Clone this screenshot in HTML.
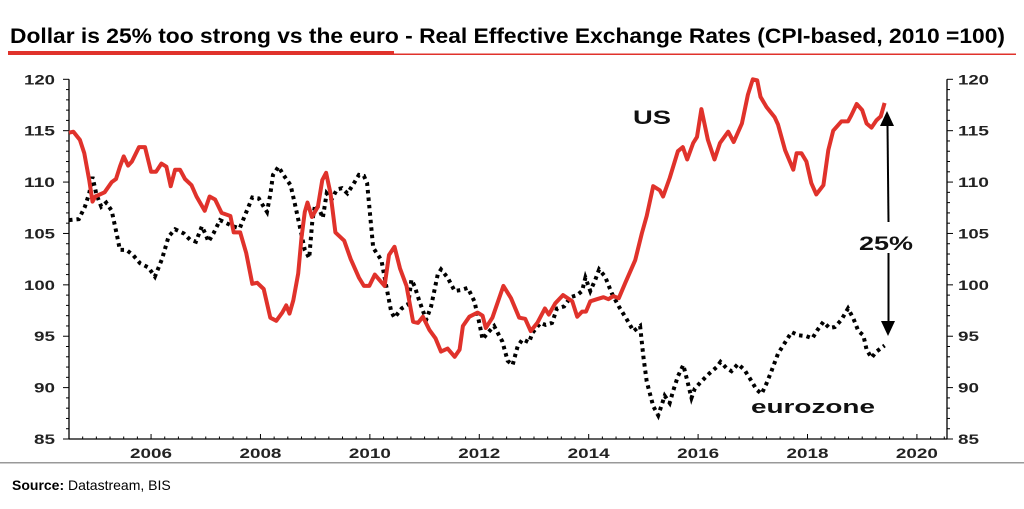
<!DOCTYPE html>
<html><head><meta charset="utf-8"><style>
body{margin:0;background:#fff;width:1024px;height:504px;overflow:hidden;font-family:"Liberation Sans",sans-serif}
</style></head><body>
<svg id="chart" width="1024" height="504" xmlns="http://www.w3.org/2000/svg">
<text x="10" y="43" font-size="21" font-weight="bold" fill="#000" textLength="995" lengthAdjust="spacingAndGlyphs">Dollar is 25% too strong vs the euro - Real Effective Exchange Rates (CPI-based, 2010 =100)</text>
<rect x="8" y="51" width="386" height="4" fill="#e0322b"/>
<rect x="8" y="53.5" width="1008" height="1.5" fill="#e0322b"/>
<rect x="0" y="462" width="1024" height="1.5" fill="#999"/>
<text x="12" y="490" font-size="14" fill="#000"><tspan font-weight="bold">Source:</tspan> Datastream, BIS</text>
<g id="axes"></g>
<g id="marks"></g>
<text x="633" y="124" font-size="19" font-weight="bold" fill="#111" textLength="38" lengthAdjust="spacingAndGlyphs">US</text>
<text x="751" y="413" font-size="18" font-weight="bold" fill="#111" textLength="124" lengthAdjust="spacingAndGlyphs">eurozone</text>
<text x="859" y="250" font-size="19" font-weight="bold" fill="#111" textLength="54" lengthAdjust="spacingAndGlyphs">25%</text>
<g fill="#000" stroke="#000">
<line x1="887.5" y1="125" x2="888.5" y2="222" stroke-width="2"/>
<line x1="888.5" y1="253" x2="888.5" y2="322" stroke-width="2"/>
<polygon points="887,111 880,126 894,126" stroke="none"/>
<polygon points="888,336 881,321 895,321" stroke="none"/>
</g>
</svg>
<script>
const yTicks=[85,90,95,100,105,110,115,120];
const xTickYears=[2006,2008,2010,2012,2014,2016,2018,2020];
const usYears=[2004.5,2004.58,2004.7,2004.78,2004.87,2004.93,2004.98,2005.15,2005.28,2005.36,2005.43,2005.5,2005.58,2005.65,2005.78,2005.89,2006.0,2006.09,2006.19,2006.28,2006.36,2006.44,2006.53,2006.62,2006.74,2006.83,2006.98,2007.07,2007.17,2007.29,2007.45,2007.51,2007.63,2007.74,2007.85,2007.94,2008.06,2008.18,2008.29,2008.4,2008.47,2008.53,2008.6,2008.69,2008.75,2008.81,2008.86,2008.94,2009.05,2009.13,2009.2,2009.28,2009.37,2009.53,2009.65,2009.8,2009.89,2009.99,2010.09,2010.27,2010.35,2010.45,2010.55,2010.67,2010.79,2010.88,2010.97,2011.09,2011.2,2011.3,2011.42,2011.55,2011.64,2011.7,2011.82,2011.97,2012.06,2012.12,2012.24,2012.44,2012.58,2012.73,2012.84,2012.94,2013.06,2013.2,2013.27,2013.39,2013.53,2013.7,2013.79,2013.88,2013.95,2014.03,2014.15,2014.27,2014.36,2014.45,2014.55,2014.67,2014.85,2014.97,2015.06,2015.18,2015.3,2015.36,2015.48,2015.63,2015.72,2015.8,2015.91,2015.98,2016.06,2016.18,2016.3,2016.4,2016.55,2016.65,2016.8,2016.91,2017.0,2017.08,2017.14,2017.25,2017.4,2017.46,2017.59,2017.74,2017.8,2017.89,2017.98,2018.07,2018.16,2018.29,2018.38,2018.47,2018.62,2018.74,2018.8,2018.9,2019.0,2019.08,2019.17,2019.26,2019.34,2019.41];
const usValues=[114.8,114.9,114.1,112.8,110.2,108.1,108.6,109,110.0,110.3,111.5,112.5,111.6,112.0,113.4,113.4,111.0,111.0,111.8,111.5,109.6,111.2,111.2,110.3,109.7,108.6,107.2,108.6,108.3,107.0,106.7,105.1,105.1,103.1,100.1,100.2,99.6,96.8,96.5,97.3,98.0,97.2,98.5,101.1,104.6,107.1,108,106.6,107.6,110.2,110.9,108.9,105.1,104.3,102.5,100.7,99.9,99.9,101.0,99.9,102.9,103.7,101.6,99.9,96.4,96.3,96.9,95.6,94.8,93.5,93.8,93.0,93.7,96.0,96.9,97.3,97.0,95.8,96.8,99.9,98.7,96.8,96.7,95.5,96.3,97.7,97.1,98.2,99.0,98.4,96.9,97.4,97.4,98.4,98.6,98.8,98.6,98.9,98.7,100.2,102.4,105.0,106.7,109.6,109.2,108.6,110.4,113.0,113.4,112.2,113.8,114.4,117.1,114.1,112.2,113.8,114.9,113.9,115.7,118.5,120,119.9,118.3,117.3,116.3,115.6,113.1,111.2,112.8,112.8,112.0,109.9,108.8,109.7,113.1,115.0,115.9,115.9,116.5,117.6,117.0,115.7,115.3,116.0,116.4,117.7];
const ezYears=[2004.5,2004.68,2004.79,2004.87,2004.93,2005.0,2005.09,2005.18,2005.28,2005.37,2005.43,2005.55,2005.67,2005.8,2005.95,2006.07,2006.2,2006.32,2006.44,2006.6,2006.71,2006.82,2006.93,2006.99,2007.05,2007.14,2007.26,2007.38,2007.5,2007.62,2007.72,2007.85,2007.97,2008.06,2008.12,2008.18,2008.23,2008.33,2008.42,2008.55,2008.64,2008.73,2008.81,2008.89,2008.95,2009.0,2009.08,2009.14,2009.21,2009.3,2009.4,2009.49,2009.59,2009.71,2009.8,2009.89,2009.95,2010.06,2010.21,2010.3,2010.39,2010.45,2010.58,2010.7,2010.76,2010.82,2010.9,2011.03,2011.12,2011.24,2011.3,2011.42,2011.55,2011.67,2011.79,2011.91,2012.0,2012.06,2012.15,2012.27,2012.42,2012.52,2012.61,2012.7,2012.79,2012.91,2012.97,2013.12,2013.21,2013.33,2013.42,2013.55,2013.67,2013.79,2013.88,2013.94,2014.03,2014.12,2014.19,2014.3,2014.42,2014.55,2014.7,2014.82,2014.94,2015.0,2015.06,2015.18,2015.27,2015.39,2015.48,2015.54,2015.63,2015.73,2015.8,2015.88,2015.94,2016.06,2016.21,2016.34,2016.41,2016.52,2016.61,2016.73,2016.85,2016.98,2017.07,2017.16,2017.25,2017.34,2017.46,2017.59,2017.71,2017.83,2017.98,2018.09,2018.18,2018.29,2018.4,2018.5,2018.62,2018.74,2018.84,2018.93,2019.02,2019.08,2019.17,2019.26,2019.41];
const ezValues=[106.3,106.4,107.6,108.9,110.5,108.8,107.6,108.0,107.2,105.0,103.4,103.4,102.9,102.1,101.7,100.8,102.5,104.7,105.4,105.0,104.4,104.2,105.7,105.0,104.2,105.0,106.3,106.0,105.7,105.5,106.8,108.5,108.4,107.6,107.1,108.8,110.7,111.5,110.7,109.7,107.6,105.4,103.4,102.6,106.3,107.8,107.3,106.5,108.9,108.3,109.3,109.4,108.9,109.9,110.7,110.6,109.9,103.6,102.4,99.85,97.4,96.8,97.7,98.1,100.5,99.85,98.5,96.6,97.9,101.0,101.5,100.7,99.4,99.5,99.7,98.4,96.3,94.7,95.3,96.0,94.5,92.6,92.2,94.0,94.7,94.4,95.3,96.3,96.1,96.3,97.7,97.9,98.8,99.0,99.4,100.7,99.4,100.5,101.5,100.8,99.2,97.9,96.6,95.5,96.0,93.0,90.6,88.2,87.3,89.2,88.5,89.6,91.1,92.2,90.7,89.0,89.9,90.6,91.4,92.0,92.5,91.9,91.6,92.3,91.7,90.6,89.8,89.4,90.4,91.6,93.3,94.4,95.4,95.1,95.0,94.8,95.6,96.4,95.8,95.9,96.6,97.7,96.7,95.5,95.1,93.7,92.9,93.5,94.1];

const NS='http://www.w3.org/2000/svg';
const X0=69,X1=947,Y0=439,Y1=79.3,YR0=2004.5,YR1=2020.55,V0=85,V1=120;
function xs(t){return X0+(t-YR0)/(YR1-YR0)*(X1-X0);}
function ys(v){return Y0-(v-V0)/(V1-V0)*(Y0-Y1);}
function mk(tag,attrs,parent){const e=document.createElementNS(NS,tag);for(const k in attrs)e.setAttribute(k,attrs[k]);parent.appendChild(e);return e;}
const axes=document.getElementById('axes'),marks=document.getElementById('marks');

const la=mk('line',{x1:X0,y1:Y1,x2:X0,y2:Y0,stroke:'#000','stroke-width':1.3},axes);

const ra=mk('line',{x1:X1,y1:Y1,x2:X1,y2:Y0,stroke:'#000','stroke-width':1.3},axes);

const xa=mk('line',{x1:X0,y1:Y0,x2:X1,y2:Y0,stroke:'#000','stroke-width':1.3},axes);


for(let v=V0;v<=V1;v++){
  const major=v%5===0,len=major?6:3;
  mk('line',{x1:X0-len,y1:ys(v),x2:X0,y2:ys(v),stroke:'#000','stroke-width':1},axes);
  mk('line',{x1:X1,y1:ys(v),x2:X1+len,y2:ys(v),stroke:'#000','stroke-width':1},axes);
}
yTicks.forEach(v=>{
  const l=mk('text',{x:24,y:ys(v)+5,'font-size':14,'font-weight':'bold',fill:'#222',textLength:31,lengthAdjust:'spacingAndGlyphs'},axes);
  l.textContent=v;
  if(v<100){l.setAttribute('x',34);l.setAttribute('textLength',21);}
  
  
  const r=mk('text',{x:958,y:ys(v)+5,'font-size':14,'font-weight':'bold',fill:'#222',textLength:v<100?21:31,lengthAdjust:'spacingAndGlyphs'},axes);
  r.textContent=v;
  
  
});
for(let t=2004.75;t<YR1;t+=0.25){
  const maj=Math.abs(t-Math.round(t))<0.01&&Math.round(t)%2===0;
  mk('line',{x1:xs(t),y1:Y0,x2:xs(t),y2:Y0-(maj?5:2.5),stroke:'#000','stroke-width':1},axes);
}
xTickYears.forEach(y=>{
  const l=mk('text',{x:xs(y)-21,y:458,'font-size':14,'font-weight':'bold',fill:'#222',textLength:42,lengthAdjust:'spacingAndGlyphs'},axes);
  l.textContent=y;
  
  
});

function path(xv,vv){return xv.map((t,i)=>(i?'L':'M')+xs(t).toFixed(1)+','+ys(vv[i]).toFixed(1)).join('');}
const ez=mk('path',{d:path(ezYears,ezValues),fill:'none',stroke:'#000','stroke-width':4,'stroke-dasharray':'3.5,4'},marks);


const us=mk('path',{d:path(usYears,usValues),fill:'none',stroke:'#e0322b','stroke-width':4,'stroke-linejoin':'round'},marks);


</script>
</body></html>
